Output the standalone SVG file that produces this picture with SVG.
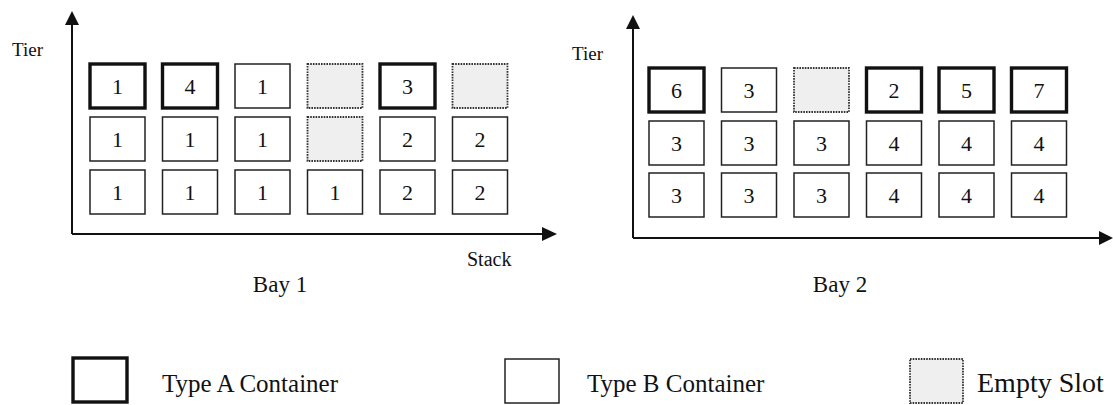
<svg xmlns="http://www.w3.org/2000/svg" width="1113" height="405" viewBox="0 0 1113 405">
<style>
  .a{fill:#fff;stroke:#111;stroke-width:3.4}
  .b{fill:#fff;stroke:#222;stroke-width:1.5}
  .e{fill:#efefef;stroke:#333;stroke-width:1.8;stroke-dasharray:1.6 1.1}
  .n{font-family:"Liberation Serif","Times New Roman",serif;font-size:22px;fill:#111;text-anchor:middle}
  .l{font-family:"Liberation Serif","Times New Roman",serif;fill:#111}
  .ax{stroke:#111;stroke-width:2;fill:none}
  .hd{fill:#111}
</style>
<rect width="1113" height="405" fill="#fff"/>
<g id="connectors">
  <line class="ax" x1="72" y1="234" x2="72" y2="24"/>
  <polygon class="hd" points="65,25 72,11 79,25"/>
  <line class="ax" x1="72" y1="234" x2="544" y2="234"/>
  <polygon class="hd" points="542,227 557,234 542,241"/>
  <line class="ax" x1="633" y1="238" x2="633" y2="28"/>
  <polygon class="hd" points="626,29 633,15 640,29"/>
  <line class="ax" x1="633" y1="238" x2="1100" y2="238"/>
  <polygon class="hd" points="1099,231 1113,238 1099,245"/>
</g>
<g id="labels">
  <text class="l" x="12" y="56" font-size="19">Tier</text>
  <text class="l" x="467" y="266" font-size="20">Stack</text>
  <text class="l" x="280" y="292" font-size="23" text-anchor="middle">Bay 1</text>
  <text class="l" x="572" y="60" font-size="19">Tier</text>
  <text class="l" x="840" y="292" font-size="23" text-anchor="middle">Bay 2</text>
</g>
<g id="bay1">
  <g id="b1-r1c1"><rect class="a" x="90" y="64" width="55" height="44"/><text class="n" x="117.5" y="94">1</text></g>
  <g id="b1-r1c2"><rect class="a" x="162.5" y="64" width="55" height="44"/><text class="n" x="190" y="94">4</text></g>
  <g id="b1-r1c3"><rect class="b" x="235" y="64" width="55" height="44"/><text class="n" x="262.5" y="94">1</text></g>
  <g id="b1-r1c4"><rect class="e" x="307.5" y="64" width="55" height="44"/></g>
  <g id="b1-r1c5"><rect class="a" x="380" y="64" width="55" height="44"/><text class="n" x="407.5" y="94">3</text></g>
  <g id="b1-r1c6"><rect class="e" x="452.5" y="64" width="55" height="44"/></g>
  <g id="b1-r2c1"><rect class="b" x="90" y="117" width="55" height="44"/><text class="n" x="117.5" y="147">1</text></g>
  <g id="b1-r2c2"><rect class="b" x="162.5" y="117" width="55" height="44"/><text class="n" x="190" y="147">1</text></g>
  <g id="b1-r2c3"><rect class="b" x="235" y="117" width="55" height="44"/><text class="n" x="262.5" y="147">1</text></g>
  <g id="b1-r2c4"><rect class="e" x="307.5" y="117" width="55" height="44"/></g>
  <g id="b1-r2c5"><rect class="b" x="380" y="117" width="55" height="44"/><text class="n" x="407.5" y="147">2</text></g>
  <g id="b1-r2c6"><rect class="b" x="452.5" y="117" width="55" height="44"/><text class="n" x="480" y="147">2</text></g>
  <g id="b1-r3c1"><rect class="b" x="90" y="170" width="55" height="44"/><text class="n" x="117.5" y="200">1</text></g>
  <g id="b1-r3c2"><rect class="b" x="162.5" y="170" width="55" height="44"/><text class="n" x="190" y="200">1</text></g>
  <g id="b1-r3c3"><rect class="b" x="235" y="170" width="55" height="44"/><text class="n" x="262.5" y="200">1</text></g>
  <g id="b1-r3c4"><rect class="b" x="307.5" y="170" width="55" height="44"/><text class="n" x="335" y="200">1</text></g>
  <g id="b1-r3c5"><rect class="b" x="380" y="170" width="55" height="44"/><text class="n" x="407.5" y="200">2</text></g>
  <g id="b1-r3c6"><rect class="b" x="452.5" y="170" width="55" height="44"/><text class="n" x="480" y="200">2</text></g>
</g>
<g id="bay2">
  <g id="b2-r1c1"><rect class="a" x="649" y="68" width="55" height="44"/><text class="n" x="676.5" y="98">6</text></g>
  <g id="b2-r1c2"><rect class="b" x="721.5" y="68" width="55" height="44"/><text class="n" x="749" y="98">3</text></g>
  <g id="b2-r1c3"><rect class="e" x="794" y="68" width="55" height="44"/></g>
  <g id="b2-r1c4"><rect class="a" x="866.5" y="68" width="55" height="44"/><text class="n" x="894" y="98">2</text></g>
  <g id="b2-r1c5"><rect class="a" x="939" y="68" width="55" height="44"/><text class="n" x="966.5" y="98">5</text></g>
  <g id="b2-r1c6"><rect class="a" x="1011.5" y="68" width="55" height="44"/><text class="n" x="1039" y="98">7</text></g>
  <g id="b2-r2c1"><rect class="b" x="649" y="121" width="55" height="44"/><text class="n" x="676.5" y="151">3</text></g>
  <g id="b2-r2c2"><rect class="b" x="721.5" y="121" width="55" height="44"/><text class="n" x="749" y="151">3</text></g>
  <g id="b2-r2c3"><rect class="b" x="794" y="121" width="55" height="44"/><text class="n" x="821.5" y="151">3</text></g>
  <g id="b2-r2c4"><rect class="b" x="866.5" y="121" width="55" height="44"/><text class="n" x="894" y="151">4</text></g>
  <g id="b2-r2c5"><rect class="b" x="939" y="121" width="55" height="44"/><text class="n" x="966.5" y="151">4</text></g>
  <g id="b2-r2c6"><rect class="b" x="1011.5" y="121" width="55" height="44"/><text class="n" x="1039" y="151">4</text></g>
  <g id="b2-r3c1"><rect class="b" x="649" y="173" width="55" height="44"/><text class="n" x="676.5" y="203">3</text></g>
  <g id="b2-r3c2"><rect class="b" x="721.5" y="173" width="55" height="44"/><text class="n" x="749" y="203">3</text></g>
  <g id="b2-r3c3"><rect class="b" x="794" y="173" width="55" height="44"/><text class="n" x="821.5" y="203">3</text></g>
  <g id="b2-r3c4"><rect class="b" x="866.5" y="173" width="55" height="44"/><text class="n" x="894" y="203">4</text></g>
  <g id="b2-r3c5"><rect class="b" x="939" y="173" width="55" height="44"/><text class="n" x="966.5" y="203">4</text></g>
  <g id="b2-r3c6"><rect class="b" x="1011.5" y="173" width="55" height="44"/><text class="n" x="1039" y="203">4</text></g>
</g>
<g id="legend">
  <g id="legend-a"><rect class="a" x="73" y="358" width="54" height="44"/><text class="l" x="162" y="392" font-size="25">Type A Container</text></g>
  <g id="legend-b"><rect class="b" x="505" y="359" width="54" height="44"/><text class="l" x="587" y="392" font-size="25">Type B Container</text></g>
  <g id="legend-e"><rect class="e" x="910" y="359" width="53" height="44"/><text class="l" x="977" y="392" font-size="28">Empty Slot</text></g>
</g>
</svg>
